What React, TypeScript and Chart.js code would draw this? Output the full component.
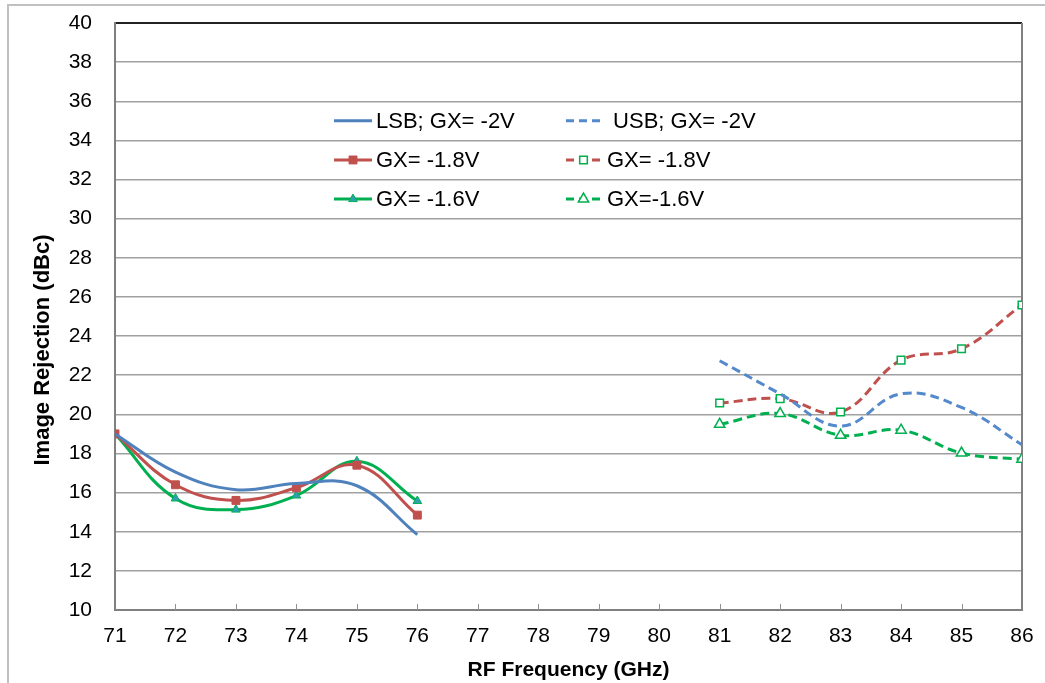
import React, { useEffect, useRef } from 'react';
import { Chart, registerables } from 'chart.js';

Chart.register(...registerables);

// ---- data ----
const freqLow = [71, 72, 73, 74, 75, 76];
const freqHigh = [81, 82, 83, 84, 85, 86];
const lsbGx20 = [19.0, 17.05, 16.15, 16.47, 16.35, 13.85];
const lsbGx18 = [19.0, 16.4, 15.6, 16.25, 17.4, 14.85];
const lsbGx16 = [19.0, 15.7, 15.13, 15.85, 17.6, 15.57];
const usbGx20 = [22.74, 21.05, 19.4, 21.05, 20.35, 18.45];
const usbGx18 = [20.58, 20.8, 20.12, 22.77, 23.35, 25.59];
const usbGx16 = [19.49, 20.04, 18.93, 19.19, 18.02, 17.7];
const seriesLabels = ['LSB; GX= -2V', 'GX= -1.8V', 'GX= -1.6V', ' USB; GX= -2V', 'GX= -1.8V', 'GX=-1.6V'];
const xTitle = 'RF Frequency (GHz)';
const yTitle = 'Image Rejection (dBc)';
const xMin = 71, xMax = 86, yMin = 10, yMax = 40, yStep = 2;

const BLUE = '#4F81BD';
const BLUE_DASH = '#5489CC';
const RED = '#C0504D';
const GREEN = '#00B050';
const TEAL = '#2F9FB4';
const FONT = 'Arial, "Liberation Sans", sans-serif';

const toXY = (xs: number[], ys: number[]) => xs.map((x, i) => ({ x, y: ys[i] }));

function drawMarker(ctx: CanvasRenderingContext2D, style: string, x: number, y: number, r: number, fill: string, stroke: string, lw: number) {
  ctx.save();
  ctx.beginPath();
  ctx.setLineDash([]);
  if (style === 'rect') {
    const s = Math.SQRT1_2 * r;
    ctx.rect(x - s, y - s, 2 * s, 2 * s);
  } else if (style === 'triangle') {
    let rad = 0;
    ctx.moveTo(x + Math.sin(rad) * r, y - Math.cos(rad) * r);
    rad += (2 * Math.PI) / 3;
    ctx.lineTo(x + Math.sin(rad) * r, y - Math.cos(rad) * r);
    rad += (2 * Math.PI) / 3;
    ctx.lineTo(x + Math.sin(rad) * r, y - Math.cos(rad) * r);
    ctx.closePath();
  }
  ctx.fillStyle = fill;
  ctx.fill();
  ctx.lineWidth = lw;
  ctx.strokeStyle = stroke;
  ctx.stroke();
  ctx.restore();
}

const decorPlugin = {
  id: 'decor',
  beforeDraw(chart: any) {
    const ctx = chart.ctx as CanvasRenderingContext2D;
    ctx.save();
    ctx.fillStyle = '#ffffff';
    ctx.fillRect(0, 0, chart.width, chart.height);
    ctx.strokeStyle = '#c0c0c0';
    ctx.lineWidth = 2;
    ctx.beginPath();
    ctx.moveTo(8, chart.height);
    ctx.lineTo(8, 5);
    ctx.lineTo(chart.width, 5);
    ctx.stroke();
    ctx.restore();
  },
  beforeDatasetsDraw(chart: any) {
    const ctx = chart.ctx as CanvasRenderingContext2D;
    const { right, top, bottom } = chart.chartArea;
    const xs = chart.scales.x;
    ctx.save();
    ctx.strokeStyle = '#808080';
    ctx.lineWidth = 2;
    ctx.beginPath();
    ctx.moveTo(right, top);
    ctx.lineTo(right, bottom);
    ctx.stroke();
    ctx.lineWidth = 1;
    ctx.strokeStyle = '#909090';
    for (let v = xMin + 1; v < xMax; v++) {
      const px = Math.round(xs.getPixelForValue(v)) + 0.5;
      ctx.beginPath();
      ctx.moveTo(px, bottom);
      ctx.lineTo(px, bottom - 6);
      ctx.stroke();
    }
    ctx.restore();
  },
  afterDraw(chart: any) {
    const ctx = chart.ctx as CanvasRenderingContext2D;
    const { left } = chart.chartArea;
    const ys = chart.scales.y;
    const rowsY = [35, 33, 31].map((v) => ys.getPixelForValue(v));
    const cols = [
      { x0: left + 219, x1: left + 257, tx: left + 261 },
      { x0: left + 451, x1: left + 486, tx: left + 492 },
    ];
    ctx.save();
    ctx.font = `22px ${FONT}`;
    ctx.textBaseline = 'middle';
    ctx.textAlign = 'left';
    chart.data.datasets.forEach((ds: any, i: number) => {
      const col = cols[Math.floor(i / 3)];
      const y = rowsY[i % 3];
      ctx.save();
      ctx.strokeStyle = ds.borderColor;
      ctx.lineWidth = ds.borderWidth;
      ctx.setLineDash(ds.borderDash ? [8, 5] : []);
      ctx.beginPath();
      ctx.moveTo(col.x0, y);
      ctx.lineTo(col.x1, y);
      ctx.stroke();
      ctx.restore();
      if (ds.pointRadius > 0) {
        drawMarker(ctx, ds.pointStyle, (col.x0 + col.x1) / 2, y, ds.pointRadius, ds.pointBackgroundColor, ds.pointBorderColor, ds.pointBorderWidth);
      }
      ctx.fillStyle = '#000000';
      ctx.fillText(seriesLabels[i], col.tx, y + 1);
    });
    ctx.save();
    ctx.translate(43, 350);
    ctx.rotate(-Math.PI / 2);
    ctx.font = `bold 22px ${FONT}`;
    ctx.textAlign = 'center';
    ctx.textBaseline = 'middle';
    ctx.fillStyle = '#000000';
    ctx.fillText(yTitle, 0, 0);
    ctx.restore();
    ctx.restore();
  },
};

export default function App() {
  const ref = useRef<HTMLCanvasElement | null>(null);

  useEffect(() => {
    document.body.style.margin = '0';
    const canvas = ref.current;
    if (!canvas) return;
    const common = { borderWidth: 3, tension: 0.4, fill: false, pointHoverRadius: 0 };
    const chart = new Chart(canvas, {
      type: 'line',
      data: {
        datasets: [
          { ...common, label: seriesLabels[0], data: toXY(freqLow, lsbGx20), borderColor: BLUE, pointRadius: 0 },
          {
            ...common, label: seriesLabels[1], data: toXY(freqLow, lsbGx18), borderColor: RED,
            pointStyle: 'rect', pointRadius: 5.6, pointBackgroundColor: RED, pointBorderColor: RED, pointBorderWidth: 1,
          },
          {
            ...common, label: seriesLabels[2], data: toXY(freqLow, lsbGx16), borderColor: GREEN,
            pointStyle: 'triangle', pointRadius: 5, pointBackgroundColor: TEAL, pointBorderColor: GREEN, pointBorderWidth: 1,
          },
          { ...common, label: seriesLabels[3], data: toXY(freqHigh, usbGx20), borderColor: BLUE_DASH, borderDash: [9, 5], pointRadius: 0 },
          {
            ...common, label: seriesLabels[4], data: toXY(freqHigh, usbGx18), borderColor: RED, borderDash: [9, 5],
            pointStyle: 'rect', pointRadius: 5.4, pointBackgroundColor: '#ffffff', pointBorderColor: GREEN, pointBorderWidth: 1.5,
          },
          {
            ...common, label: seriesLabels[5], data: toXY(freqHigh, usbGx16), borderColor: GREEN, borderDash: [9, 5],
            pointStyle: 'triangle', pointRadius: 6, pointBackgroundColor: '#ffffff', pointBorderColor: GREEN, pointBorderWidth: 1.5,
          },
        ] as any,
      },
      options: {
        responsive: false,
        animation: false,
        devicePixelRatio: 1,
        events: [],
        layout: { padding: { left: 0, right: 23, top: 23, bottom: 0 } },
        plugins: { legend: { display: false }, tooltip: { enabled: false }, title: { display: false } },
        scales: {
          x: {
            type: 'linear',
            min: xMin,
            max: xMax,
            afterFit: (s: any) => { s.height = 73; s.paddingLeft = 0; s.paddingRight = 0; },
            ticks: { stepSize: 1, padding: 14, color: '#000', font: { family: FONT, size: 21 } },
            grid: { drawOnChartArea: false, drawTicks: false },
            border: { display: true, color: '#808080', width: 2 },
            title: { display: true, text: xTitle, color: '#000', padding: { top: 0, bottom: 0 }, font: { family: FONT, size: 21, weight: 'bold' } },
          },
          y: {
            type: 'linear',
            min: yMin,
            max: yMax,
            afterFit: (s: any) => { s.width = 115; s.paddingTop = 0; s.paddingBottom = 0; },
            ticks: { stepSize: yStep, padding: 23, color: '#000', font: { family: FONT, size: 21 } },
            grid: {
              drawTicks: false,
              color: (c: any) => (c.tick && c.tick.value === yMax ? '#222222' : '#a0a0a0'),
              lineWidth: (c: any) => (c.tick && c.tick.value === yMax ? 2 : 1.5),
            },
            border: { display: true, color: '#808080', width: 2 },
          },
        },
      } as any,
      plugins: [decorPlugin],
    });
    return () => chart.destroy();
  }, []);

  return <canvas ref={ref} width={1045} height={683} style={{ display: 'block' }} />;
}
